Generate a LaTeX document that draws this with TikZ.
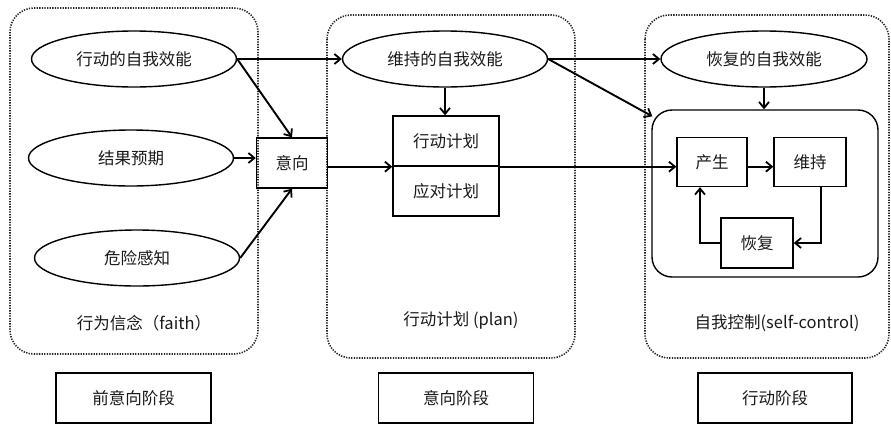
\documentclass[tikz,border=0pt]{standalone}
\usepackage{fontspec}
\setmainfont{Noto Sans CJK SC}
\usetikzlibrary{arrows.meta,shapes.geometric}
\begin{document}
\begin{tikzpicture}[x=1pt,y=-1pt,
  every node/.style={font=\fontsize{16.5}{19}\selectfont, text=black!90},
  zone/.style={draw=black!85, line width=1.6pt, dash pattern=on 1.3pt off 1.3pt, rounded corners=24pt},
  ell/.style={draw, ellipse, line width=1.4pt, minimum width=205pt, minimum height=56pt, inner sep=0pt},
  box/.style={draw, rectangle, line width=1.4pt, inner sep=0pt},
  arr/.style={line width=1.9pt, -{Straight Barb[length=6pt,width=10pt,line width=1.8pt]}}
]
\useasboundingbox (0,0) rectangle (891,429);

% dotted zones
\draw[zone] (10,8) rectangle (258,354);
\draw[zone] (327,15) rectangle (575,358);
\draw[zone] (645,15) rectangle (889,358);

% ellipses
\node[ell] (xd) at (134,59) {行动的自我效能};
\node[ell] (jg) at (131,158) {结果预期};
\node[ell] (wx) at (137,258) {危险感知};
\node[ell] (wc) at (445,59) {维持的自我效能};
\node[ell, minimum width=206pt] (hf) at (764,59) {恢复的自我效能};

% boxes
\node[box, minimum width=71pt, minimum height=50pt] (yx) at (292,163) {意向};
\node[box, minimum width=106pt, minimum height=50pt] (p1) at (446,141) {行动计划};
\node[box, minimum width=106pt, minimum height=50pt] (p2) at (446,191) {应对计划};

\node[draw, line width=1.4pt, rounded corners=20pt, minimum width=226pt, minimum height=167pt] (inner) at (765,193.5) {};
\node[box, minimum width=70pt, minimum height=49pt] (cs) at (712,162) {产生};
\node[box, minimum width=72pt, minimum height=49pt] (wcb) at (810,162) {维持};
\node[box, minimum width=72pt, minimum height=50pt] (hfb) at (757,243) {恢复};

% zone labels
\node (l1) at (144,323) {行为信念（faith）};
\node (l2) at (461,320) {行动计划 (plan)};
\node (l3) at (777,323) {自我控制(self-control)};

% stage boxes
\node[box, minimum width=155pt, minimum height=50pt] (s1) at (133.5,398) {前意向阶段};
\node[box, minimum width=155pt, minimum height=50pt] (s2) at (456,398) {意向阶段};
\node[box, minimum width=154pt, minimum height=50pt] (s3) at (775,398) {行动阶段};

% arrows
\draw[arr] (xd.east) -- (wc.west);
\draw[arr] (xd.east) -- (yx.north);
\draw[arr] (jg.east) -- (jg.east -| yx.west);
\draw[arr] (wx.east) -- (yx.south);
\draw[arr] (yx.east |- p1.south) -- (p1.south west);
\draw[arr] (p1.south east) -- (cs.west |- p1.south east);
\draw[arr] (wc.south) -- (wc.south |- p1.north);
\draw[arr] (wc.east) -- (hf.west);
\draw[arr] (wc.east) -- ([xshift=1pt,yshift=-7pt]inner.north west);
\draw[arr] (hf.south) -- (hf.south |- inner.north);
\draw[arr] (cs.east |- p1.south east) -- (wcb.west |- p1.south east);
\draw[arr] ([xshift=11pt]wcb.south) |- (hfb.east);
\draw[arr] (hfb.west) -| ([xshift=-12pt]cs.south);
\end{tikzpicture}
\end{document}
